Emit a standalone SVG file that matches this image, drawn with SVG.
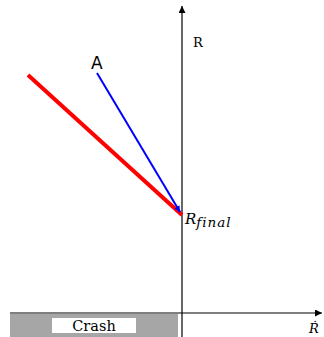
<svg xmlns="http://www.w3.org/2000/svg" width="324" height="337" viewBox="0 0 324 337">
<style>
.ax{stroke:#000;stroke-width:1.2;fill:none}
.serif{font-family:"DejaVu Serif","Liberation Serif",serif;fill:#000}
.it{font-family:"DejaVu Serif","Liberation Serif",serif;font-style:italic;fill:#000}
</style>
<defs>
<marker id="ah" viewBox="0 0 10 10" refX="10" refY="5" markerWidth="7" markerHeight="7" markerUnits="userSpaceOnUse" orient="auto"><path d="M0,0 L10,5 L0,10 z" fill="#000"/></marker>
<marker id="ab" viewBox="0 0 10 10" refX="10" refY="5" markerWidth="6" markerHeight="6" markerUnits="userSpaceOnUse" orient="auto"><path d="M0,0 L10,5 L0,10 z" fill="#0000ff"/></marker>
</defs>
<g id="crash">
<rect x="10" y="314" width="168" height="23" fill="#a6a6a6"/>
<rect x="52" y="318" width="84" height="15" fill="#fff"/>
<text x="94" y="331" text-anchor="middle" class="serif" font-size="14.5">Crash</text>
</g>
<g id="connectors">
<line class="ax" x1="182" y1="337" x2="182" y2="6" stroke="#000" marker-end="url(#ah)"/>
<line class="ax" x1="10" y1="313" x2="322" y2="313" marker-end="url(#ah)"/>
<line x1="28" y1="75" x2="182" y2="215" stroke="#ff0000" stroke-width="4"/>
<line x1="97" y1="73" x2="180" y2="212" stroke="#0000ff" stroke-width="2" marker-end="url(#ab)"/>
</g>
<g id="labels">
<text x="91" y="69" font-family="DejaVu Sans,sans-serif" font-size="17">A</text>
<text x="193" y="47" class="serif" font-size="13">R</text>
<text x="185" y="224" class="it" font-size="15">R<tspan font-size="13.5" dy="3" letter-spacing="1">final</tspan></text>
<text x="309" y="333" class="it" font-size="13">Ṙ</text>
</g>
</svg>
